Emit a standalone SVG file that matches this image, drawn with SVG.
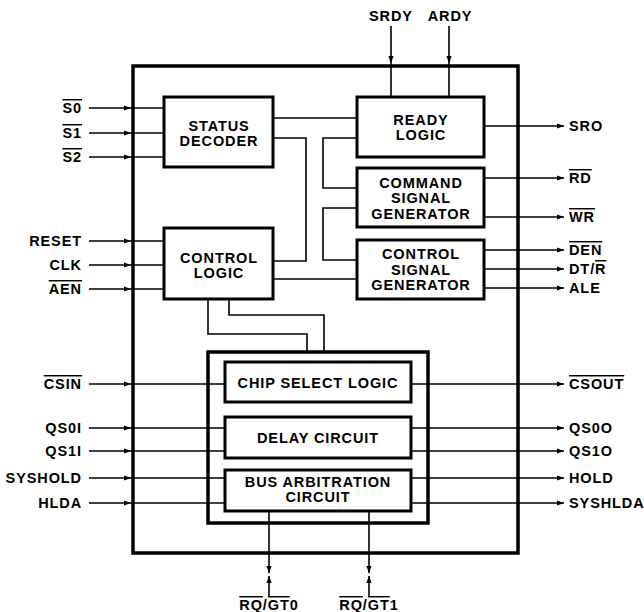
<svg xmlns="http://www.w3.org/2000/svg" width="644" height="612" viewBox="0 0 644 612">
<style>
text{font-family:"Liberation Sans",Arial,sans-serif;font-weight:bold;font-size:14.5px;letter-spacing:0.9px;fill:#000}
.c{text-anchor:middle}
.e{text-anchor:end}
.ov{text-decoration:overline}
.box{fill:#fff;stroke:#000;stroke-width:3}
.w{fill:none;stroke:#000;stroke-width:1.6}
.in{fill:none;stroke:#000;stroke-width:1.6;marker-mid:url(#ah)}
.out{fill:none;stroke:#000;stroke-width:1.6;marker-end:url(#ah)}
</style>
<defs>
<marker id="ah" viewBox="-7 -3 7 6" refX="0" refY="0" markerWidth="7" markerHeight="6" markerUnits="userSpaceOnUse" orient="auto"><path d="M0,0 L-7,-2.6 L-7,2.6 z" fill="#000"/></marker>
</defs>
<rect id="outer" x="133" y="66" width="385" height="487" fill="none" stroke="#000" stroke-width="3.5"/>
<g id="connectors">
<!-- left inputs -->
<path class="in" d="M89,108 L131,108 L164,108"/>
<path class="in" d="M89,133 L131,133 L164,133"/>
<path class="in" d="M89,157 L131,157 L164,157"/>
<path class="in" d="M89,241 L131,241 L164,241"/>
<path class="in" d="M89,265 L131,265 L164,265"/>
<path class="in" d="M89,289 L131,289 L164,289"/>
<path class="in" d="M89,384 L131,384 L225,384"/>
<path class="in" d="M89,428 L131,428 L225,428"/>
<path class="in" d="M89,451 L131,451 L225,451"/>
<path class="in" d="M89,478 L131,478 L225,478"/>
<path class="in" d="M89,503 L131,503 L225,503"/>
<!-- top inputs -->
<path class="in" d="M391,26 L391,63 L391,97"/>
<path class="in" d="M449,26 L449,63 L449,97"/>
<!-- right outputs -->
<path class="out" d="M484,126 L564,126"/>
<path class="out" d="M484,178 L564,178"/>
<path class="out" d="M484,217 L564,217"/>
<path class="out" d="M484,250 L564,250"/>
<path class="out" d="M484,269 L564,269"/>
<path class="out" d="M484,288 L564,288"/>
<path class="out" d="M411,384 L564,384"/>
<path class="out" d="M411,428 L564,428"/>
<path class="out" d="M411,451 L564,451"/>
<path class="out" d="M411,478 L564,478"/>
<path class="out" d="M411,503 L564,503"/>
<!-- internal -->
<path class="w" d="M273,118 L357,118"/>
<path class="w" d="M273,138 L306,138 L306,261 L273,261"/>
<path class="w" d="M357,138 L323,138 L323,188 L357,188"/>
<path class="w" d="M357,208 L323,208 L323,260 L357,260"/>
<path class="w" d="M273,279 L357,279"/>
<path class="w" d="M208,300 L208,334 L307,334 L307,352"/>
<path class="w" d="M229,300 L229,315 L324,315 L324,352"/>
<!-- bottom bidirectional -->
<path class="out" d="M269,511 L269,573"/>
<path class="out" d="M269,596 L269,576"/>
<path class="out" d="M369,511 L369,573"/>
<path class="out" d="M369,596 L369,576"/>
</g>
<g id="status-decoder"><rect class="box" x="164" y="97" width="109" height="70"/><text class="c" x="219" y="131">STATUS</text><text class="c" x="219" y="146">DECODER</text></g>
<g id="control-logic"><rect class="box" x="164" y="228" width="109" height="71"/><text class="c" x="219" y="263">CONTROL</text><text class="c" x="219" y="278">LOGIC</text></g>
<g id="ready-logic"><rect class="box" x="357" y="97" width="127" height="60"/><text class="c" x="421" y="125">READY</text><text class="c" x="421" y="140">LOGIC</text></g>
<g id="command-signal-generator"><rect class="box" x="357" y="168" width="127" height="59"/><text class="c" x="421" y="188">COMMAND</text><text class="c" x="421" y="203">SIGNAL</text><text class="c" x="421" y="219">GENERATOR</text></g>
<g id="control-signal-generator"><rect class="box" x="357" y="240" width="127" height="59"/><text class="c" x="421" y="259">CONTROL</text><text class="c" x="421" y="275">SIGNAL</text><text class="c" x="421" y="290">GENERATOR</text></g>
<g id="inner-group"><rect x="208" y="352" width="220" height="171" fill="none" stroke="#000" stroke-width="3.5"/></g>
<g id="chip-select-logic"><rect class="box" x="225" y="362" width="186" height="40"/><text class="c" x="318" y="388">CHIP SELECT LOGIC</text></g>
<g id="delay-circuit"><rect class="box" x="225" y="417" width="186" height="41"/><text class="c" x="318" y="443">DELAY CIRCUIT</text></g>
<g id="bus-arbitration"><rect class="box" x="225" y="470" width="186" height="41"/><text class="c" x="318" y="487">BUS ARBITRATION</text><text class="c" x="318" y="502">CIRCUIT</text></g>
<g id="labels">
<text class="e" x="82" y="113"><tspan class="ov">S0</tspan></text>
<text class="e" x="82" y="138"><tspan class="ov">S1</tspan></text>
<text class="e" x="82" y="162"><tspan class="ov">S2</tspan></text>
<text class="e" x="82" y="246">RESET</text>
<text class="e" x="82" y="270">CLK</text>
<text class="e" x="82" y="294"><tspan class="ov">AEN</tspan></text>
<text class="e" x="82" y="389"><tspan class="ov">CSIN</tspan></text>
<text class="e" x="82" y="433">QS0I</text>
<text class="e" x="82" y="456">QS1I</text>
<text class="e" x="82" y="483">SYSHOLD</text>
<text class="e" x="82" y="508">HLDA</text>
<text class="c" x="391" y="21">SRDY</text>
<text class="c" x="450" y="21">ARDY</text>
<text x="569" y="131">SRO</text>
<text x="569" y="183"><tspan class="ov">RD</tspan></text>
<text x="569" y="222"><tspan class="ov">WR</tspan></text>
<text x="569" y="255"><tspan class="ov">DEN</tspan></text>
<text x="569" y="274">DT/<tspan class="ov">R</tspan></text>
<text x="569" y="293">ALE</text>
<text x="569" y="389"><tspan class="ov">CSOUT</tspan></text>
<text x="569" y="433">QS0O</text>
<text x="569" y="456">QS1O</text>
<text x="569" y="483">HOLD</text>
<text x="569" y="508">SYSHLDA</text>
<text class="c" x="269" y="610"><tspan class="ov">RQ</tspan>/<tspan class="ov">GT</tspan>0</text>
<text class="c" x="369" y="610"><tspan class="ov">RQ</tspan>/<tspan class="ov">GT</tspan>1</text>
</g>
</svg>
